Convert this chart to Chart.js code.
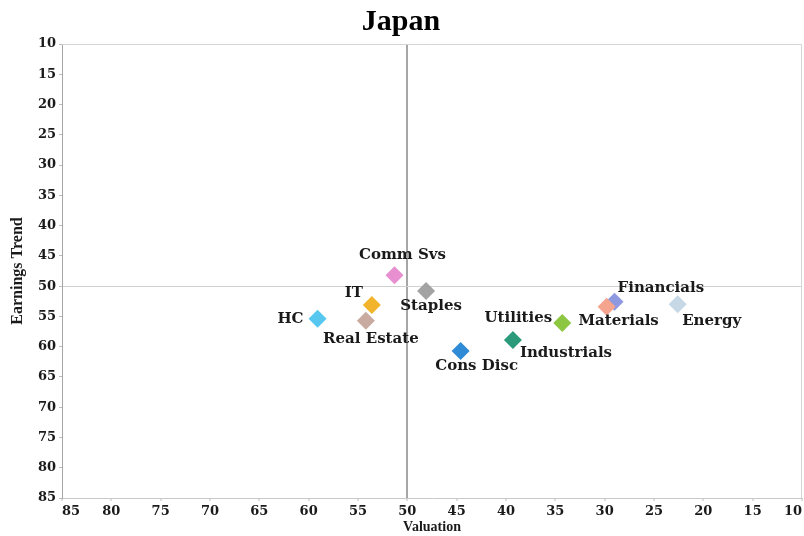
<!DOCTYPE html>
<html>
<head>
<meta charset="utf-8">
<script src="https://cdn.jsdelivr.net/npm/chart.js"></script>
<style>
  html, body { margin: 0; padding: 0; background: #fff; }
  #wrap { width: 804px; height: 536px; }
</style>
</head>
<body>
<div id="wrap"><canvas id="c" width="804" height="536"></canvas></div>
<script>
// sector positions
const sectors   = ['Materials', 'Financials', 'Comm Svs', 'Staples', 'IT', 'HC', 'Real Estate', 'Cons Disc', 'Industrials', 'Utilities', 'Energy'];
const valuation = [29.8, 29.0, 51.3, 48.1, 53.6, 59.1, 54.2, 44.6, 39.3, 34.3, 22.6];
const earnings  = [53.4, 52.6, 48.2, 50.8, 53.1, 55.4, 55.7, 60.7, 58.9, 56.1, 53.0];
const colors    = ['#f5a48e', '#8e99e0', '#e78fd0', '#a3a3a3', '#f1b42a', '#56c7ee', '#c9aaa1', '#2f8bd6', '#2b9a7b', '#8dc641', '#c6d8e6'];

const xTickValues = [85, 80, 75, 70, 65, 60, 55, 50, 45, 40, 35, 30, 25, 20, 15, 10];
const yTickValues = [10, 15, 20, 25, 30, 35, 40, 45, 50, 55, 60, 65, 70, 75, 80, 85];

// where each label sits relative to its diamond: [dx, dy, align]
const labelPlace = [
  [12, 14, 'center'], [3, -14, 'left'], [8, -20, 'center'], [5, 15, 'center'],
  [-18, -12, 'center'], [-14, 0, 'right'], [5, 18, 'center'], [16, 15, 'center'],
  [7, 13, 'left'], [-10, -5, 'right'], [34, 17, 'center']
];

const tickFont = { family: 'DejaVu Serif', size: 13, weight: 'bold' };
const asc = arr => arr.slice().sort((a, b) => a - b);

const frame = {
  id: 'frame',
  beforeDatasetsDraw(chart) {
    const a = chart.chartArea, ctx = chart.ctx;
    ctx.save();
    ctx.strokeStyle = '#d4d4d4';
    ctx.lineWidth = 1;
    ctx.beginPath();
    ctx.moveTo(a.left, a.top + 0.5);
    ctx.lineTo(a.right - 0.5, a.top + 0.5);
    ctx.lineTo(a.right - 0.5, a.bottom);
    ctx.stroke();
    ctx.restore();
  }
};

const pointLabels = {
  id: 'pointLabels',
  afterDatasetsDraw(chart) {
    const ctx = chart.ctx;
    ctx.save();
    ctx.font = 'bold 15px "DejaVu Serif"';
    ctx.fillStyle = '#1a1a1a';
    ctx.textBaseline = 'middle';
    chart.data.datasets.forEach((ds, i) => {
      const pt = chart.getDatasetMeta(i).data[0];
      const p = labelPlace[i];
      ctx.textAlign = p[2];
      ctx.fillText(ds.label, pt.x + p[0], pt.y + p[1]);
    });
    ctx.restore();
  }
};

const datasets = sectors.map((s, i) => ({
  label: s,
  data: [{ x: valuation[i], y: earnings[i] }],
  backgroundColor: colors[i],
  borderWidth: 0,
  pointStyle: 'rectRot',
  pointRadius: 9,
  pointHoverRadius: 9
}));

new Chart(document.getElementById('c'), {
  type: 'scatter',
  data: { datasets },
  plugins: [frame, pointLabels],
  options: {
    responsive: false,
    animation: false,
    events: [],
    layout: { autoPadding: false, padding: { left: 0, right: 2, top: 0, bottom: 0 } },
    plugins: {
      legend: { display: false },
      tooltip: { enabled: false },
      title: {
        display: true,
        text: 'Japan',
        color: '#000',
        font: { family: 'Liberation Serif', size: 30, weight: 'bold' },
        padding: { top: 4, bottom: 4 }
      }
    },
    scales: {
      x: {
        type: 'linear',
        reverse: true,
        min: 10,
        max: 85,
        afterBuildTicks: s => { s.ticks = asc(xTickValues).map(v => ({ value: v })); },
        afterFit: s => { s.height = 38; s.paddingRight = 0; s.paddingLeft = 0; },
        ticks: { color: '#1a1a1a', font: tickFont, padding: 3, align: 'inner', maxRotation: 0, autoSkip: false },
        grid: {
          color: c => (c.tick && c.tick.value === 50 ? '#a6a6a6' : 'rgba(0,0,0,0)'),
          lineWidth: 2,
          tickColor: '#bbbbbb',
          tickWidth: 1,
          tickLength: 3
        },
        border: { display: true, color: '#c8c8c8', width: 1 },
        title: {
          display: true,
          text: 'Valuation',
          color: '#1a1a1a',
          font: { family: 'Liberation Serif', size: 14, weight: 'bold' },
          padding: { top: 1, bottom: 0 }
        }
      },
      y: {
        type: 'linear',
        reverse: true,
        min: 10,
        max: 85,
        afterBuildTicks: s => { s.ticks = asc(yTickValues).map(v => ({ value: v })); },
        afterFit: s => { s.width = 62; },
        ticks: { color: '#1a1a1a', font: tickFont, padding: 3, autoSkip: false },
        grid: {
          color: c => (c.tick && c.tick.value === 50 ? '#d0d0d0' : 'rgba(0,0,0,0)'),
          lineWidth: 1,
          tickColor: '#bbbbbb',
          tickWidth: 1,
          tickLength: 3
        },
        border: { display: true, color: '#a6a6a6', width: 1 },
        title: {
          display: true,
          text: 'Earnings Trend',
          color: '#1a1a1a',
          font: { family: 'Liberation Serif', size: 16, weight: 'bold' },
          padding: { top: 8, bottom: 0 }
        }
      }
    }
  }
});
</script>
</body>
</html>
